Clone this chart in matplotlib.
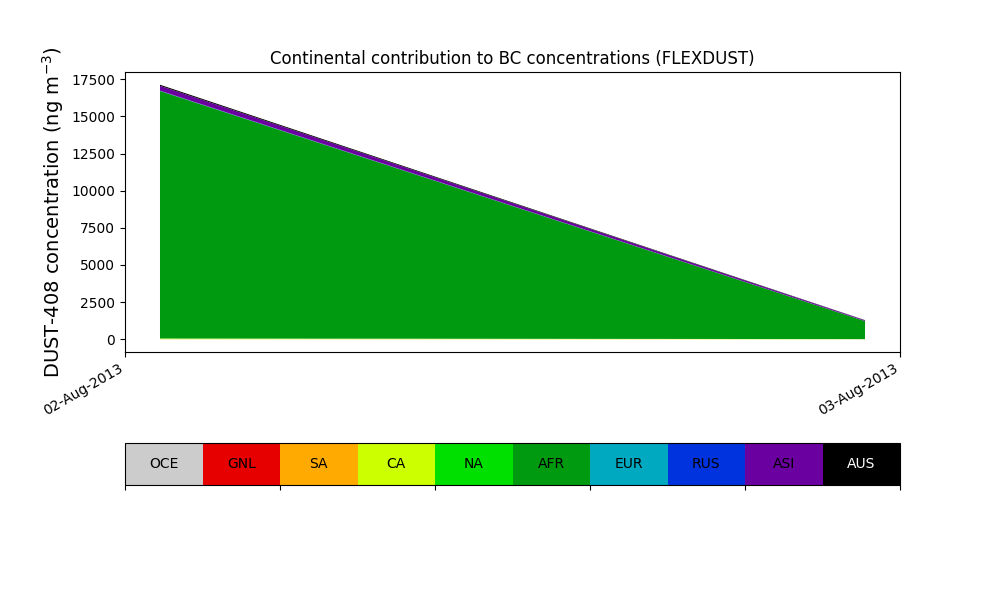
import datetime as dt
import matplotlib
matplotlib.use("Agg")
import matplotlib.pyplot as plt
import matplotlib.dates as mdates
from matplotlib.colors import ListedColormap, BoundaryNorm
from matplotlib.ticker import MultipleLocator
import numpy as np

# regions, stacked from bottom to top
regions = ["OCE", "GNL", "SA", "CA", "NA", "AFR", "EUR", "RUS", "ASI", "AUS"]
colors = ["#cccccc", "#e60000", "#ffaa00", "#ccff00", "#00e000",
          "#009a10", "#00a8c0", "#0033dd", "#6a00a0", "#000000"]

times = [dt.datetime(2013, 8, 2, 1, 5), dt.datetime(2013, 8, 2, 22, 55)]

# concentrations (ng m-3) per region at the two times
oce = [2, 0]
gnl = [0, 0]
sa = [5, 1]
ca = [40, 10]
na = [8, 2]
afr = [16650, 1210]
eur = [10, 1]
rus = [15, 2]
asi = [330, 50]
aus = [70, 15]

series = [oce, gnl, sa, ca, na, afr, eur, rus, asi, aus]

fig = plt.figure(figsize=(10, 6), dpi=100)
ax = fig.add_axes([0.125, 0.4133, 0.775, 0.4667])

ax.stackplot(times, *series, colors=colors)
total = np.sum(series, axis=0).max()
ax.set_ylim(-0.05 * total, 1.05 * total)
ax.yaxis.set_major_locator(MultipleLocator(2500))
ax.set_xlim(dt.datetime(2013, 8, 2), dt.datetime(2013, 8, 3))
ax.xaxis.set_major_locator(mdates.DayLocator())
ax.xaxis.set_major_formatter(mdates.DateFormatter("%d-%b-%Y"))
plt.setp(ax.get_xticklabels(), rotation=30, ha="right")
ax.set_title("Continental contribution to BC concentrations (FLEXDUST)")
ax.set_ylabel(r"DUST-408 concentration (ng m$^{-3}$)", fontsize=14)

# colour key
cax = fig.add_axes([0.125, 0.1917, 0.775, 0.07])
cmap = ListedColormap(colors)
norm = BoundaryNorm(np.arange(len(regions) + 1), cmap.N)
cb = fig.colorbar(plt.cm.ScalarMappable(norm=norm, cmap=cmap), cax=cax,
                  orientation="horizontal")
cb.minorticks_off()
cb.set_ticks(np.arange(0, len(regions) + 1, 2))
cb.ax.set_xticklabels([""] * 6)
for i, r in enumerate(regions):
    cax.text(i + 0.5, 0.5, r, ha="center", va="center", fontsize=10,
             color="white" if r == "AUS" else "black",
             transform=cax.get_xaxis_transform())

fig.savefig("out.png", dpi=100)
